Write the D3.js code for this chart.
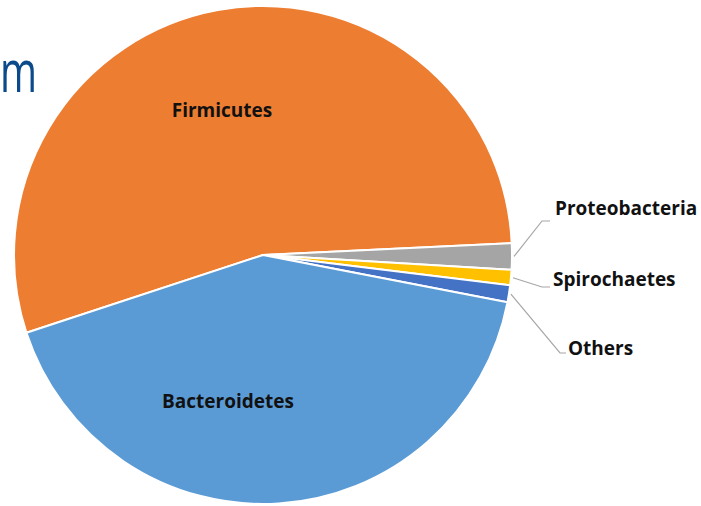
<!DOCTYPE html>
<html>
<head>
<meta charset="utf-8">
<script src="https://cdn.jsdelivr.net/npm/d3@7"></script>
<style>
  html, body { margin: 0; padding: 0; background: #fff; }
  svg { display: block; }
  text { font-family: "Open Sans", "Liberation Sans", sans-serif; }
</style>
</head>
<body>
<svg id="chart" width="701" height="506"></svg>
<script>
// Phylum composition (percent of reads), in clockwise drawing order
const phyla   = ["Firmicutes", "Proteobacteria", "Spirochaetes", "Others", "Bacteroidetes"];
const shares  = [54.3, 1.7, 1.0, 1.1, 41.9];
const colours = ["#ED7D31", "#A5A5A5", "#FFC000", "#4472C4", "#5B9BD5"];

const svg = d3.select("#chart");
const cx = 263, cy = 255, R = 249;

// Trailing letter of the slide heading that runs in from the left
svg.append("text")
  .attr("x", 0).attr("y", 92)
  .attr("fill", "#0B4A8B")
  .attr("font-size", 58)
  .attr("font-weight", 500)
  .attr("textLength", 37)
  .attr("lengthAdjust", "spacingAndGlyphs")
  .text("m");

const startDeg = 251.8;
const pie = d3.pie()
  .sort(null)
  .value(d => d.v)
  .startAngle(startDeg * Math.PI / 180)
  .endAngle((startDeg + 360) * Math.PI / 180);

const data = phyla.map((p, i) => ({ name: p, v: shares[i], c: colours[i] }));
const arcs = pie(data);

const arc = d3.arc().innerRadius(0).outerRadius(R);

const g = svg.append("g").attr("transform", `translate(${cx},${cy})`);

g.selectAll("path.slice")
  .data(arcs)
  .enter().append("path")
  .attr("class", "slice")
  .attr("d", arc)
  .attr("fill", d => d.data.c)
  .attr("stroke", "#fff")
  .attr("stroke-width", 2)
  .attr("stroke-linejoin", "round");

const labelSize = 19;

// Inside labels for the two large slices
const inside = {
  Firmicutes:    { x: -41, y: -138 },
  Bacteroidetes: { x: -35, y: 153 }
};
g.selectAll("text.inside")
  .data(arcs.filter(d => inside[d.data.name]))
  .enter().append("text")
  .attr("class", "inside")
  .attr("x", d => inside[d.data.name].x)
  .attr("y", d => inside[d.data.name].y)
  .attr("text-anchor", "middle")
  .attr("font-size", labelSize)
  .attr("font-weight", 700)
  .attr("fill", "#111")
  .text(d => d.data.name);

// Callout labels with leader lines for the small slices
const callout = {
  Proteobacteria: { elbow: [279, -34], end: [287, -34], label: [292, -40] },
  Spirochaetes:   { elbow: [279, 32],  end: [287, 32],  label: [290, 31] },
  Others:         { elbow: [297, 98],  end: [303, 98],  label: [305, 100] }
};
const edge = d3.arc().innerRadius(R + 2).outerRadius(R + 2);

const small = arcs.filter(d => callout[d.data.name]);
g.selectAll("polyline.leader")
  .data(small)
  .enter().append("polyline")
  .attr("class", "leader")
  .attr("fill", "none")
  .attr("stroke", "#A6A6A6")
  .attr("stroke-width", 1.2)
  .attr("points", d => {
    const p = edge.centroid(d);
    const c = callout[d.data.name];
    return [p, c.elbow, c.end].map(q => q.join(",")).join(" ");
  });

g.selectAll("text.callout")
  .data(small)
  .enter().append("text")
  .attr("class", "callout")
  .attr("x", d => callout[d.data.name].label[0])
  .attr("y", d => callout[d.data.name].label[1])
  .attr("font-size", labelSize)
  .attr("font-weight", 700)
  .attr("fill", "#111")
  .text(d => d.data.name);
</script>
</body>
</html>
